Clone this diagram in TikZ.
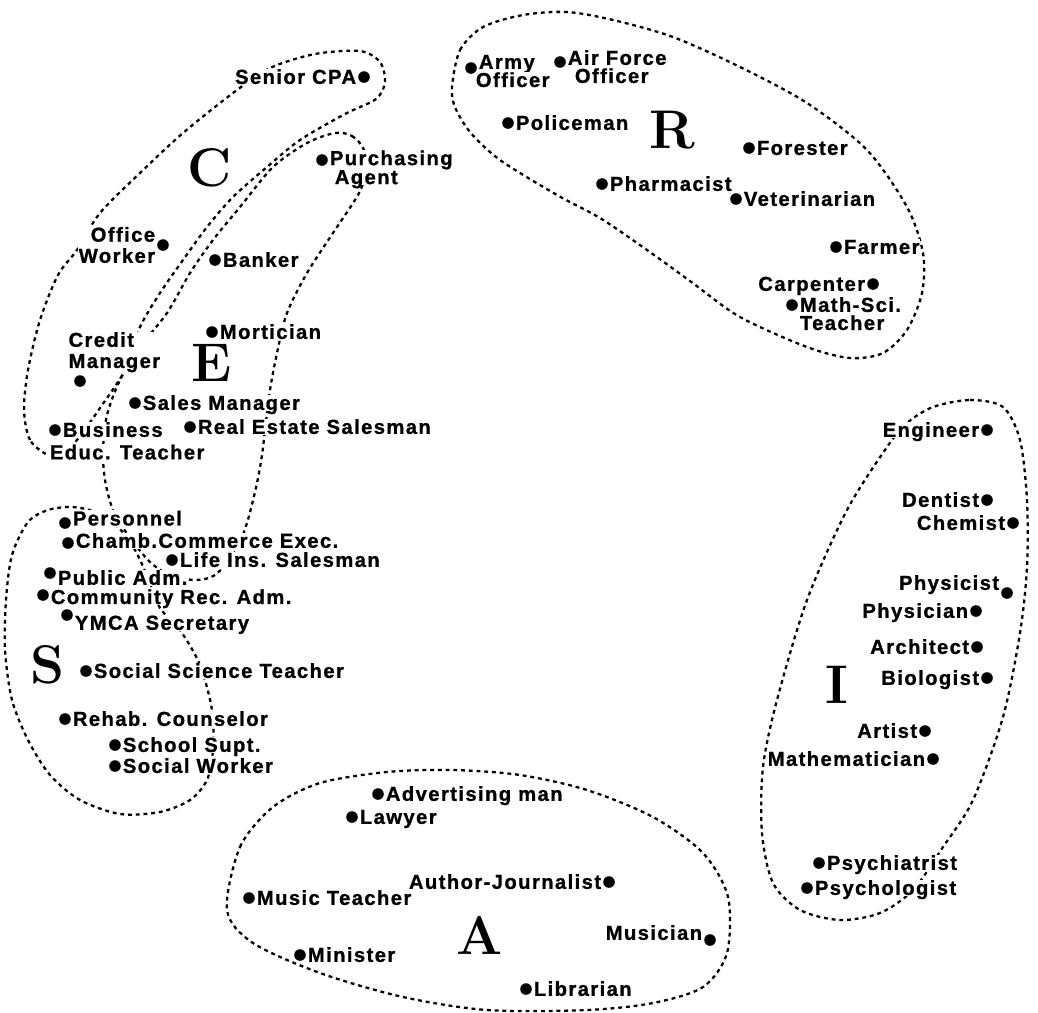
\documentclass[tikz,border=0pt]{standalone}
\usepackage{fontspec}
\newfontfamily\occfont{Liberation Sans}[LetterSpace=7, BoldFeatures={FakeBold=1}]
\usetikzlibrary{positioning}
\tikzset{
  zone/.style={line width=1.3pt, dash pattern=on 2.2pt off 2.2pt},
  dot/.style={circle, fill=black, inner sep=0pt, minimum size=6.6pt},
  jobfont/.style={font=\occfont\bfseries\fontsize{11.5}{12}\selectfont, fill=white, inner sep=0.3pt},
  job/.style={jobfont, text height=8.3pt, text depth=0.5pt},
  type/.style={font=\bfseries\fontsize{31}{31}\selectfont, inner sep=0pt},
}
\begin{document}
\begin{tikzpicture}[x=0.02cm,y=-0.02cm]
\useasboundingbox (0,0) rectangle (1038,1012);
% the six regions
\draw[zone] plot[smooth cycle] coordinates {(452,87) (460,50) (483,27) (523,15) (567,12) (613,20) (673,37) (740,67) (807,103) (867,150) (907,207) (923,253) (922,293) (907,330) (883,353) (850,358) (807,347) (740,317) (690,281) (647,250) (600,218) (557,195) (500,160) (470,132) (455,107)};
\draw[zone] plot[smooth cycle] coordinates {(933,407) (970,400) (1003,407) (1020,440) (1027,500) (1027,567) (1020,633) (1003,717) (973,800) (943,847) (913,890) (880,913) (840,920) (800,910) (773,883) (762,833) (763,767) (777,700) (807,600) (847,510) (887,447) (907,423)};
\draw[zone] plot[smooth cycle] coordinates {(227,910) (240,847) (273,807) (320,783) (387,772) (453,770) (520,775) (587,790) (653,817) (703,853) (728,897) (727,953) (703,987) (653,1003) (587,1010) (487,1010) (403,997) (320,973) (253,943)};
\draw[zone] plot[smooth cycle] coordinates {(48,455) (30,440) (24,410) (28,370) (40,320) (58,275) (77,250) (100,213) (140,173) (183,133) (233,93) (270,68) (315,54) (360,51) (380,62) (385,82) (376,99) (345,114) (300,140) (267,167) (233,197) (207,227) (183,260) (160,293) (140,327) (125,370) (100,408) (77,440) (62,453)};
\draw[zone] plot[smooth cycle] coordinates {(335,133) (352,136) (364,150) (365,175) (358,195) (333,233) (307,273) (287,313) (277,353) (270,390) (265,430) (262,455) (257,483) (247,523) (235,552) (215,575) (195,580) (170,575) (150,562) (128,535) (113,510) (105,480) (103,450) (107,415) (120,380) (140,347) (167,313) (190,273) (213,240) (240,207) (273,167) (307,143)};
\draw[zone] plot[smooth cycle] coordinates {(72,507) (95,512) (118,527) (135,550) (148,578) (160,608) (180,630) (200,665) (212,710) (213,750) (207,780) (190,800) (160,812) (120,814) (80,800) (50,775) (28,740) (12,700) (5,650) (6,600) (12,555) (28,522) (48,510)};
% type letters
\node[type] (C) at (210,168) {C};
\node[type] (E) at (212,363) {E};
\node[type] (R) at (672,130) {R};
\node[type] (S) at (48,665) {S};
\node[type] (A) at (480,935) {A};
\node[type] (I) at (837,685) {I};
% C and E
\node[dot] (cpa) at (364,77) {};
\node[job,left=0.5pt of cpa] (cpaL) {Senior CPA};
\node[dot] (pa) at (322,160) {};
\node[job,right=0.5pt of pa,yshift=1pt] (pa1) {Purchasing};
\node[job,anchor=north west] (pa2) at ([xshift=2.8pt,yshift=-1pt]pa1.south west) {Agent};
\node[dot] (ow) at (163,245) {};
\node[jobfont,align=right,left=0.5pt of ow] (owL) {Office\\Worker};
\node[dot] (bnk) at (215,260) {};
\node[job,right=0.5pt of bnk] (bnkL) {Banker};
\node[dot] (mort) at (212,332) {};
\node[job,right=0.5pt of mort] (mortL) {Mortician};
\node[dot] (cm) at (80,381) {};
\node[jobfont,align=left,anchor=south west] (cmL) at ([xshift=-7pt,yshift=1pt]cm.north) {Credit\\Manager};
\node[dot] (sm) at (135,403) {};
\node[job,right=0.5pt of sm] (smL) {Sales Manager};
\node[dot] (bet) at (55,430) {};
\node[job,right=0.5pt of bet] (bet1) {Business};
\node[job,anchor=north west] (bet2) at ([xshift=-7.4pt,yshift=-3pt]bet1.south west) {Educ. Teacher};
\node[dot] (res) at (190,427) {};
\node[job,right=0.5pt of res] (resL) {Real Estate Salesman};
% S
\node[dot] (pers) at (65,523) {};
\node[job,right=0.5pt of pers,yshift=2.5pt] (persL) {Personnel};
\node[dot] (cce) at (68,543) {};
\node[job,right=0.5pt of cce,yshift=1.2pt] (cceL) {Chamb.Commerce Exec.};
\node[dot] (lis) at (172,560) {};
\node[job,right=0.5pt of lis] (lisL) {Life Ins. Salesman};
\node[dot] (pub) at (50,573) {};
\node[job,right=0.5pt of pub,yshift=-2.8pt] (pubL) {Public Adm.};
\node[dot] (cra) at (43,595) {};
\node[job,right=0.5pt of cra,yshift=-1.2pt] (craL) {Community Rec. Adm.};
\node[dot] (ymca) at (67,615) {};
\node[job,right=0.5pt of ymca,yshift=-4.5pt] (ymcaL) {YMCA Secretary};
\node[dot] (sst) at (86,671) {};
\node[job,right=0.5pt of sst] (sstL) {Social Science Teacher};
\node[dot] (rc) at (65,719) {};
\node[job,right=0.5pt of rc] (rcL) {Rehab. Counselor};
\node[dot] (ss) at (115,745) {};
\node[job,right=0.5pt of ss] (ssL) {School Supt.};
\node[dot] (sw) at (115,766) {};
\node[job,right=0.5pt of sw] (swL) {Social Worker};
% R
\node[dot] (army) at (471,68) {};
\node[job,right=0.5pt of army,yshift=3.4pt] (army1) {Army};
\node[job,anchor=north west] (army2) at ([xshift=-1.7pt,yshift=-0.5pt]army1.south west) {Officer};
\node[dot] (af) at (560,62) {};
\node[job,right=0.5pt of af,yshift=2.3pt] (af1) {Air Force};
\node[job,anchor=north west] (af2) at ([xshift=4pt,yshift=-0.5pt]af1.south west) {Officer};
\node[dot] (pol) at (508,123) {};
\node[job,right=0.5pt of pol] (polL) {Policeman};
\node[dot] (fore) at (749,148) {};
\node[job,right=0.5pt of fore] (foreL) {Forester};
\node[dot] (phar) at (602,184) {};
\node[job,right=0.5pt of phar] (pharL) {Pharmacist};
\node[dot] (vet) at (736,199) {};
\node[job,right=0.5pt of vet] (vetL) {Veterinarian};
\node[dot] (farm) at (836,247) {};
\node[job,right=0.5pt of farm] (farmL) {Farmer};
\node[dot] (carp) at (873,284) {};
\node[job,left=0.5pt of carp] (carpL) {Carpenter};
\node[dot] (msci) at (792,305) {};
\node[job,right=0.5pt of msci] (msci1) {Math-Sci.};
\node[job,anchor=north west] (msci2) at ([yshift=-0.5pt]msci1.south west) {Teacher};
% I
\node[dot] (eng) at (987,430) {};
\node[job,left=0.5pt of eng] (engL) {Engineer};
\node[dot] (dent) at (987,500) {};
\node[job,left=0.5pt of dent] (dentL) {Dentist};
\node[dot] (chem) at (1013,523) {};
\node[job,left=0.5pt of chem] (chemL) {Chemist};
\node[dot] (phys) at (1007,593) {};
\node[job,left=0.5pt of phys,yshift=5.7pt] (physL) {Physicist};
\node[dot] (phcn) at (976,611) {};
\node[job,left=0.5pt of phcn] (phcnL) {Physician};
\node[dot] (arch) at (977,647) {};
\node[job,left=0.5pt of arch] (archL) {Architect};
\node[dot] (bio) at (987,678) {};
\node[job,left=0.5pt of bio] (bioL) {Biologist};
\node[dot] (art) at (925,731) {};
\node[job,left=0.5pt of art] (artL) {Artist};
\node[dot] (math) at (933,759) {};
\node[job,left=0.5pt of math] (mathL) {Mathematician};
\node[dot] (psyc) at (819,863) {};
\node[job,right=0.5pt of psyc] (psycL) {Psychiatrist};
\node[dot] (psyl) at (807,888) {};
\node[job,right=0.5pt of psyl] (psylL) {Psychologist};
% A
\node[dot] (adv) at (378,794) {};
\node[job,right=0.5pt of adv] (advL) {Advertising man};
\node[dot] (law) at (352,817) {};
\node[job,right=0.5pt of law] (lawL) {Lawyer};
\node[dot] (auth) at (609,882) {};
\node[job,left=0.5pt of auth] (authL) {Author-Journalist};
\node[dot] (must) at (249,898) {};
\node[job,right=0.5pt of must] (mustL) {Music Teacher};
\node[dot] (musn) at (710,940) {};
\node[job,left=0.5pt of musn,yshift=4pt] (musnL) {Musician};
\node[dot] (mini) at (300,955) {};
\node[job,right=0.5pt of mini] (miniL) {Minister};
\node[dot] (lib) at (526,989) {};
\node[job,right=0.5pt of lib] (libL) {Librarian};
\end{tikzpicture}
\end{document}
